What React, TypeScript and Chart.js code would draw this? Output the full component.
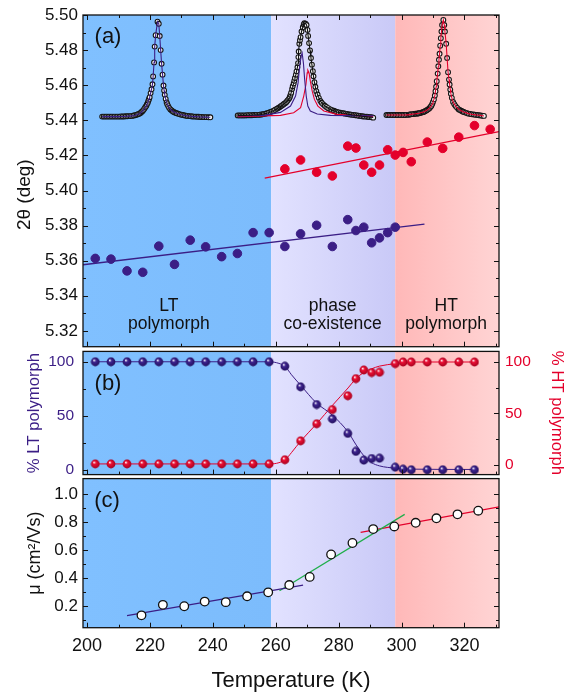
import React, { useEffect, useRef } from 'react';
import { Chart, registerables } from 'chart.js';

Chart.register(...registerables);

// ---------------- data ----------------
const xTickMajor = [200, 220, 240, 260, 280, 300, 320];
const xTickMinor = [210, 230, 250, 270, 290, 310, 330];
const phaseBoundsT = [258.5, 298.0];

// panel (a): peak position 2θ
const ltT = [202.6, 207.6, 212.7, 217.7, 222.8, 227.8, 232.8, 237.7, 242.8, 247.8, 252.8, 257.9, 262.9, 267.9, 273.0, 278.0, 282.9, 285.5, 288.0, 290.5, 293.0, 295.6, 298.0];
const lt2Theta = [5.3613, 5.3609, 5.3542, 5.3534, 5.3683, 5.3579, 5.3717, 5.3679, 5.3623, 5.3641, 5.3760, 5.3760, 5.3681, 5.3753, 5.3802, 5.3681, 5.3834, 5.3772, 5.3791, 5.3702, 5.3730, 5.3760, 5.3791];
const htT = [262.9, 267.9, 273.0, 278.0, 282.9, 285.5, 288.0, 290.5, 293.0, 295.6, 298.0, 300.5, 303.1, 308.2, 313.1, 318.2, 323.2, 328.2];
const ht2Theta = [5.4123, 5.4174, 5.4104, 5.4083, 5.4253, 5.4242, 5.4145, 5.4104, 5.4145, 5.4232, 5.4202, 5.4217, 5.4164, 5.4276, 5.4240, 5.4304, 5.4370, 5.4349];
const ltLineT = [198.7, 307.3];
const ltLine2Theta = [5.3577, 5.3808];
const htLineT = [256.5, 331.0];
const htLine2Theta = [5.4070, 5.4336];

// panel (a): inset diffraction profiles, [T, 2θ] as placed in the panel
const peak1 = [
  [204.8, 5.4421], [205.3, 5.4421], [205.8, 5.4421], [206.3, 5.4421], [206.8, 5.4421], [207.3, 5.4421], [207.8, 5.4421], [208.3, 5.4421],
  [208.8, 5.4421], [209.3, 5.4421], [209.8, 5.4421], [210.3, 5.4421], [210.8, 5.4422], [211.3, 5.4422], [211.8, 5.4422], [212.3, 5.4423],
  [212.8, 5.4423], [213.3, 5.4424], [213.8, 5.4424], [214.3, 5.4425], [214.8, 5.4427], [215.3, 5.4429], [215.8, 5.4432], [216.2, 5.4435],
  [216.6, 5.4438], [217.0, 5.4442], [217.3, 5.4447], [217.6, 5.4452], [217.9, 5.4458], [218.2, 5.4466], [218.5, 5.4474], [218.8, 5.4482],
  [219.0, 5.4490], [219.3, 5.4500], [219.5, 5.4512], [219.7, 5.4522], [219.9, 5.4532], [220.2, 5.4555], [220.5, 5.4577], [220.8, 5.4605],
  [221.0, 5.4650], [221.3, 5.4730], [221.5, 5.4820], [221.8, 5.4885], [222.4, 5.4962], [222.8, 5.4950], [223.1, 5.4880], [223.4, 5.4800],
  [223.7, 5.4722], [224.0, 5.4660], [224.3, 5.4598], [224.5, 5.4570], [224.7, 5.4545], [225.0, 5.4522], [225.3, 5.4502], [225.5, 5.4492],
  [225.8, 5.4481], [226.1, 5.4471], [226.5, 5.4462], [226.9, 5.4456], [227.3, 5.4450], [227.7, 5.4446], [228.1, 5.4443], [228.5, 5.4440],
  [229.0, 5.4437], [229.5, 5.4434], [230.0, 5.4432], [230.5, 5.4430], [231.0, 5.4428], [231.5, 5.4426], [232.0, 5.4425], [232.5, 5.4424],
  [233.0, 5.4423], [233.5, 5.4422], [234.0, 5.4421], [234.5, 5.4421], [235.0, 5.4420], [235.5, 5.4420], [236.0, 5.4419], [236.5, 5.4419],
  [237.0, 5.4418], [237.5, 5.4418], [238.0, 5.4418], [238.6, 5.4417], [239.2, 5.4417],
];
const peak2 = [
  [247.9, 5.4428], [248.4, 5.4428], [248.9, 5.4428], [249.4, 5.4428], [249.9, 5.4428], [250.4, 5.4428], [250.9, 5.4429], [251.4, 5.4429],
  [251.9, 5.4429], [252.4, 5.4429], [252.9, 5.4430], [253.4, 5.4430], [253.9, 5.4431], [254.4, 5.4431], [254.9, 5.4432], [255.4, 5.4433],
  [255.8, 5.4434], [256.2, 5.4436], [256.7, 5.4438], [257.2, 5.4440], [257.7, 5.4443], [258.3, 5.4447], [258.8, 5.4451], [259.3, 5.4455],
  [259.8, 5.4460], [260.4, 5.4466], [260.8, 5.4470], [261.2, 5.4475], [261.6, 5.4480], [262.0, 5.4485], [262.4, 5.4490], [262.7, 5.4494],
  [263.1, 5.4499], [263.4, 5.4504], [263.7, 5.4511], [264.0, 5.4518], [264.3, 5.4526], [264.5, 5.4534], [264.7, 5.4545], [264.9, 5.4557],
  [265.2, 5.4579], [265.4, 5.4594], [265.7, 5.4610], [265.9, 5.4625], [266.1, 5.4641], [266.4, 5.4660], [266.6, 5.4679], [266.9, 5.4702],
  [267.1, 5.4726], [267.2, 5.4760], [267.3, 5.4792], [267.5, 5.4836], [267.7, 5.4856], [267.9, 5.4874], [268.2, 5.4906], [268.6, 5.4930],
  [268.9, 5.4946], [269.1, 5.4953], [269.5, 5.4950], [269.8, 5.4943], [270.1, 5.4915], [270.3, 5.4881], [270.6, 5.4840], [270.9, 5.4798],
  [271.2, 5.4755], [271.5, 5.4717], [271.8, 5.4680], [272.0, 5.4651], [272.3, 5.4617], [272.6, 5.4591], [272.9, 5.4566], [273.3, 5.4547],
  [273.7, 5.4528], [274.2, 5.4510], [274.6, 5.4500], [275.1, 5.4491], [275.6, 5.4483], [276.1, 5.4476], [276.7, 5.4469], [277.4, 5.4462],
  [277.9, 5.4458], [278.5, 5.4454], [279.0, 5.4450], [279.5, 5.4447], [280.0, 5.4445], [280.6, 5.4443], [281.1, 5.4441], [281.6, 5.4440],
  [282.1, 5.4438], [282.7, 5.4436], [283.2, 5.4434], [283.7, 5.4433], [284.2, 5.4431], [284.8, 5.4430], [285.3, 5.4429], [285.8, 5.4428],
  [286.3, 5.4426], [286.9, 5.4425], [287.4, 5.4423], [287.9, 5.4422], [288.4, 5.4421], [289.0, 5.4420], [289.5, 5.4419], [290.0, 5.4418],
  [290.5, 5.4417], [291.0, 5.4415],
];
const peak2LtComponent = [
  [247.9, 5.4425], [256.2, 5.4428], [261.5, 5.4445], [264.7, 5.4481], [266.3, 5.4538], [267.1, 5.4613], [267.6, 5.4707], [268.1, 5.4768],
  [268.4, 5.4783], [268.8, 5.4726], [269.2, 5.4632], [269.7, 5.4538], [270.2, 5.4481], [271.0, 5.4453], [273.2, 5.4436], [277.4, 5.4428], [291.0, 5.4425],
];
const peak2HtComponent = [
  [247.9, 5.4421], [261.5, 5.4428], [265.7, 5.4443], [267.9, 5.4472], [268.9, 5.4538], [269.6, 5.4604], [270.0, 5.4670], [270.2, 5.4685],
  [270.6, 5.4670], [271.0, 5.4623], [271.6, 5.4566], [272.3, 5.4519], [273.4, 5.4481], [275.3, 5.4453], [279.5, 5.4434], [291.0, 5.4421],
];
const peak3 = [
  [295.2, 5.4430], [295.7, 5.4430], [296.2, 5.4430], [296.7, 5.4430], [297.2, 5.4430], [297.7, 5.4430], [298.2, 5.4430], [298.7, 5.4430],
  [299.2, 5.4430], [299.7, 5.4430], [300.2, 5.4430], [300.7, 5.4430], [301.2, 5.4430], [301.7, 5.4431], [302.2, 5.4431], [302.6, 5.4433],
  [302.9, 5.4434], [303.4, 5.4435], [303.9, 5.4436], [304.4, 5.4437], [304.8, 5.4438], [305.2, 5.4439], [305.5, 5.4440], [305.9, 5.4442],
  [306.3, 5.4444], [306.7, 5.4446], [307.0, 5.4448], [307.3, 5.4450], [307.6, 5.4453], [308.0, 5.4457], [308.3, 5.4461], [308.7, 5.4466],
  [309.0, 5.4472], [309.3, 5.4478], [309.5, 5.4483], [309.8, 5.4494], [310.0, 5.4505], [310.3, 5.4519], [310.6, 5.4541], [310.8, 5.4566],
  [311.0, 5.4591], [311.2, 5.4623], [311.5, 5.4666], [311.7, 5.4708], [311.9, 5.4745], [312.1, 5.4779], [312.3, 5.4825], [312.5, 5.4868],
  [312.7, 5.4906], [312.9, 5.4943], [313.3, 5.4972], [313.6, 5.4943], [313.8, 5.4906], [314.2, 5.4836], [314.5, 5.4755], [314.8, 5.4674],
  [315.1, 5.4632], [315.3, 5.4604], [315.5, 5.4575], [315.7, 5.4551], [316.0, 5.4528], [316.4, 5.4504], [316.8, 5.4492], [317.2, 5.4481],
  [317.7, 5.4471], [318.2, 5.4462], [318.6, 5.4458], [319.0, 5.4454], [319.4, 5.4450], [319.8, 5.4447], [320.3, 5.4444], [320.8, 5.4441],
  [321.3, 5.4438], [321.9, 5.4436], [322.4, 5.4434], [323.0, 5.4433], [323.5, 5.4431], [324.1, 5.4430], [324.6, 5.4429], [325.1, 5.4428],
  [325.6, 5.4426], [326.2, 5.4425],
];

const aTickMajor = [5.32, 5.34, 5.36, 5.38, 5.40, 5.42, 5.44, 5.46, 5.48, 5.50];
const aTickMinor = [5.31, 5.33, 5.35, 5.37, 5.39, 5.41, 5.43, 5.45, 5.47, 5.49];
const regionLabelT = [226.0, 278.1, 314.2];
const regionLabelText = [['LT', 'polymorph'], ['phase', 'co-existence'], ['HT', 'polymorph']];
const regionLabelV = [5.334, 5.3236];

// panel (b): phase fractions
const fracT = [202.6, 207.6, 212.7, 217.7, 222.8, 227.8, 232.8, 237.7, 242.8, 247.8, 252.8, 257.9, 262.9, 267.9, 273.0, 278.0, 282.9, 285.5, 288.0, 290.5, 293.0, 298.0, 300.5, 303.1, 308.2, 313.1, 318.2, 323.2];
const ltPct = [100, 100, 100, 100, 100, 100, 100, 100, 100, 100, 100, 100, 95.9, 76.8, 60.4, 47.1, 33.7, 17.0, 8.9, 10.4, 10.7, 2.4, 0.5, 0, 0, 0, 0, 0];
const htPct = [1, 1, 1, 1, 1, 1, 1, 1, 1, 1, 1, 1, 5.0, 23.4, 40.0, 53.8, 67.2, 83.8, 92.2, 89.7, 90.0, 98.4, 100, 100, 100, 100, 100, 100];
const ltFitT = [202.6, 258.0, 259.5, 261.0, 262.9, 265.0, 267.9, 272.9, 278.0, 283.0, 285.4, 287.9, 290.5, 293.0, 298.0, 303.0, 323.2];
const ltFitPct = [100, 100, 99.6, 98.5, 96, 88, 78.3, 62, 50.6, 35, 23.8, 13.4, 6.6, 3.6, 1.5, 0.6, 0.3];
const htFitT = [202.6, 258.0, 259.5, 261.0, 263.0, 265.0, 268.0, 273.0, 278.0, 283.0, 285.5, 287.9, 290.5, 293.0, 298.0, 300.5, 303.0, 323.2];
const htFitPct = [1, 1, 1.2, 2.2, 5, 12, 23.4, 40, 57.8, 74.8, 83.8, 89.7, 93.4, 96, 98.4, 99.4, 100, 100];
const bTickMajor = [0, 50, 100];
const bTickMinor = [25, 75];

// panel (c): mobility
const muT = [217.3, 224.1, 230.9, 237.4, 244.1, 250.9, 257.6, 264.3, 270.8, 277.6, 284.4, 291.0, 297.7, 304.5, 311.1, 317.8, 324.4];
const mu = [0.134, 0.209, 0.199, 0.232, 0.228, 0.270, 0.298, 0.350, 0.408, 0.568, 0.650, 0.749, 0.768, 0.794, 0.826, 0.854, 0.880];
const muLtFitT = [212.7, 268.7];
const muLtFit = [0.132, 0.350];
const muCoFitT = [261.2, 301.0];
const muCoFit = [0.310, 0.854];
const muHtFitT = [287.0, 331.3];
const muHtFit = [0.725, 0.908];
const cTickMajor = [0.2, 0.4, 0.6, 0.8, 1.0];
const cTickMinor = [0.1, 0.3, 0.5, 0.7, 0.9];

// ---------------- style ----------------
const FONT = "'Liberation Sans', Arial, Helvetica, sans-serif";
const LT = '#3b1e86';
const HT = '#e4002b';
const GREEN = '#1fae4a';
const INK = '#111111';
const X_MIN = 198.7;
const X_MAX = 331.0;
const REGION_COLORS = [
  ['#80c0ff', '#7cbcfc'],
  ['#e2e2ff', '#c9c9f7'],
  ['#ffb8b8', '#ffd4d4'],
];

const zip = (xs: number[], ys: number[]) => xs.map((x, i) => ({ x, y: ys[i] }));
const pairs = (p: number[][]) => p.map(([x, y]) => ({ x, y }));

const regionBgPlugin = {
  id: 'regionBg',
  beforeDatasetsDraw(chart: any, _a: any, opts: any) {
    const { ctx, chartArea: a } = chart;
    const x = chart.scales.x;
    const edges = [a.left, ...phaseBoundsT.map((t) => x.getPixelForValue(t)), a.right];
    ctx.save();
    REGION_COLORS.forEach(([c0, c1], i) => {
      const x0 = edges[i];
      const x1 = edges[i + 1];
      const g = ctx.createLinearGradient(x0, 0, x1, 0);
      g.addColorStop(0, c0);
      g.addColorStop(1, c1);
      ctx.fillStyle = g;
      ctx.fillRect(x0, a.top, x1 - x0, a.bottom - a.top);
    });
    if (opts && opts.labels) {
      const y = chart.scales.y;
      ctx.fillStyle = INK;
      ctx.font = `17.5px ${FONT}`;
      ctx.textAlign = 'center';
      ctx.textBaseline = 'middle';
      regionLabelT.forEach((t, i) => {
        regionLabelText[i].forEach((line, j) => {
          ctx.fillText(line, x.getPixelForValue(t), y.getPixelForValue(regionLabelV[j]));
        });
      });
    }
    ctx.restore();
  },
};

const frameTicksPlugin = {
  id: 'frameTicks',
  afterDatasetsDraw(chart: any, _a: any, opts: any) {
    const { ctx, chartArea: a } = chart;
    ctx.save();
    ctx.strokeStyle = INK;
    ctx.lineWidth = 1;
    for (const s of (opts && opts.sides) || []) {
      const sc = chart.scales[s.scale];
      const groups: any[] = [[s.major, 5], [s.minor, 3]];
      for (const [vals, len] of groups) {
        for (const v of vals) {
          const p = sc.getPixelForValue(v);
          ctx.beginPath();
          if (s.side === 'left' || s.side === 'right') {
            if (p < a.top - 0.5 || p > a.bottom + 0.5) continue;
            const yy = Math.round(p) + 0.5;
            const x0 = s.side === 'left' ? a.left : a.right;
            const x1 = s.side === 'left' ? a.left + len : a.right - len;
            ctx.moveTo(x0, yy);
            ctx.lineTo(x1, yy);
          } else {
            if (p < a.left - 0.5 || p > a.right + 0.5) continue;
            const xx = Math.round(p) + 0.5;
            const y0 = s.side === 'top' ? a.top : a.bottom;
            const y1 = s.side === 'top' ? a.top + len : a.bottom - len;
            ctx.moveTo(xx, y0);
            ctx.lineTo(xx, y1);
          }
          ctx.stroke();
        }
      }
    }
    ctx.lineWidth = 1.3;
    ctx.strokeRect(a.left, a.top, a.right - a.left, a.bottom - a.top);
    ctx.restore();
  },
};

const panelTextPlugin = {
  id: 'panelText',
  afterDraw(chart: any, _a: any, opts: any) {
    const { ctx, chartArea: a } = chart;
    ctx.save();
    for (const it of (opts && opts.items) || []) {
      ctx.save();
      ctx.translate(a.left + it.dx, a.top + it.dy);
      if (it.rotate) ctx.rotate(it.rotate);
      ctx.fillStyle = it.color || INK;
      ctx.font = `${it.size}px ${FONT}`;
      ctx.textAlign = 'center';
      ctx.textBaseline = 'middle';
      ctx.fillText(it.text, 0, 0);
      ctx.restore();
    }
    ctx.restore();
  },
};

function makeBall(base: string, dark: string) {
  const c = document.createElement('canvas');
  c.width = 10;
  c.height = 10;
  const g = c.getContext('2d') as CanvasRenderingContext2D;
  const grad = g.createRadialGradient(3.7, 3.3, 0.2, 5, 5, 4.8);
  grad.addColorStop(0, '#ffffff');
  grad.addColorStop(0.32, base);
  grad.addColorStop(1, dark);
  g.fillStyle = grad;
  g.beginPath();
  g.arc(5, 5, 4.4, 0, Math.PI * 2);
  g.fill();
  return c;
}

// fix an axis' thickness and drop the automatic label overhang padding
const fixWidth = (w: number) => (s: any) => {
  s.width = w;
  s.paddingTop = 0;
  s.paddingBottom = 0;
  s.paddingLeft = 0;
  s.paddingRight = 0;
};
const fixHeight = (h: number) => (s: any) => {
  s.height = h;
  s.paddingTop = 0;
  s.paddingBottom = 0;
  s.paddingLeft = 0;
  s.paddingRight = 0;
};

const hiddenX = { type: 'linear', min: X_MIN, max: X_MAX, display: false };

function yAxis(extra: any) {
  return {
    type: 'linear',
    grid: { display: false, drawTicks: false },
    border: { display: false },
    ...extra,
  };
}

const lineDs = (label: string, data: any[], color: string, width: number, order: number) => ({
  label,
  data,
  showLine: true,
  borderColor: color,
  borderWidth: width,
  pointRadius: 0,
  fill: false,
  order,
});

const insetPoints = (label: string, data: any[]) => ({
  label,
  data,
  pointRadius: 2.4,
  pointBackgroundColor: '#f6f6f6',
  pointBorderColor: '#151515',
  pointBorderWidth: 1.1,
  order: 3,
});

export default function App() {
  const refA = useRef<HTMLCanvasElement | null>(null);
  const refB = useRef<HTMLCanvasElement | null>(null);
  const refC = useRef<HTMLCanvasElement | null>(null);

  useEffect(() => {
    Chart.defaults.font.family = FONT;
    Chart.defaults.color = INK;
    const charts: any[] = [];

    // ---------- panel (a) ----------
    charts.push(
      new Chart(refA.current as HTMLCanvasElement, {
        type: 'scatter',
        data: {
          datasets: [
            { label: 'LT 2θ', data: zip(ltT, lt2Theta), pointRadius: 4.3, pointBackgroundColor: LT, pointBorderColor: LT, order: 1 },
            { label: 'HT 2θ', data: zip(htT, ht2Theta), pointRadius: 4.3, pointBackgroundColor: HT, pointBorderColor: HT, order: 1 },
            lineDs('LT linear fit', zip(ltLineT, ltLine2Theta), LT, 1.3, 5),
            lineDs('HT linear fit', zip(htLineT, htLine2Theta), HT, 1.3, 5),
            lineDs('LT profile fit', pairs(peak1), LT, 1.1, 2),
            insetPoints('LT profile', pairs(peak1)),
            lineDs('co-existence total fit', pairs(peak2), '#111111', 1.1, 2),
            lineDs('co-existence LT component', pairs(peak2LtComponent), LT, 1.1, 2),
            lineDs('co-existence HT component', pairs(peak2HtComponent), HT, 1.1, 2),
            insetPoints('co-existence profile', pairs(peak2)),
            lineDs('HT profile fit', pairs(peak3), HT, 1.1, 2),
            insetPoints('HT profile', pairs(peak3)),
          ],
        } as any,
        options: {
          responsive: false,
          animation: false,
          layout: { padding: { left: 0, top: 15, right: 66, bottom: 3 } },
          plugins: {
            legend: { display: false },
            tooltip: { enabled: false },
            regionBg: { labels: true },
            frameTicks: {
              sides: [
                { side: 'left', scale: 'y', major: aTickMajor, minor: aTickMinor },
                { side: 'right', scale: 'y', major: aTickMajor, minor: aTickMinor },
                { side: 'top', scale: 'x', major: xTickMajor, minor: xTickMinor },
                { side: 'bottom', scale: 'x', major: xTickMajor, minor: xTickMinor },
              ],
            },
            panelText: {
              items: [
                { text: '(a)', dx: 25, dy: 21.7, size: 22 },
                { text: '2θ (deg)', dx: -58, dy: 179.7, size: 19, rotate: -Math.PI / 2 },
              ],
            },
          } as any,
          scales: {
            x: hiddenX,
            y: yAxis({
              min: 5.311,
              max: 5.5,
              afterFit: fixWidth(83),
              afterBuildTicks: (s: any) => { s.ticks = aTickMajor.map((v) => ({ value: v })); },
              ticks: { padding: 5, autoSkip: false, color: INK, font: { size: 17 }, callback: (v: any) => Number(v).toFixed(2) },
            }),
          } as any,
        },
        plugins: [regionBgPlugin, frameTicksPlugin, panelTextPlugin],
      } as any)
    );

    // ---------- panel (b) ----------
    const ltBall = makeBall('#3f2590', '#1e0c58');
    const htBall = makeBall('#ea1035', '#a0001c');
    charts.push(
      new Chart(refB.current as HTMLCanvasElement, {
        type: 'scatter',
        data: {
          datasets: [
            { label: '% LT', data: zip(fracT, ltPct), yAxisID: 'y', pointStyle: ltBall, pointRadius: 4.4, order: 1 },
            { label: '% HT', data: zip(fracT, htPct), yAxisID: 'yR', pointStyle: htBall, pointRadius: 4.4, order: 1 },
            { ...lineDs('% LT fit', zip(ltFitT, ltFitPct), LT, 1, 4), yAxisID: 'y', cubicInterpolationMode: 'monotone' },
            { ...lineDs('% HT fit', zip(htFitT, htFitPct), HT, 1, 4), yAxisID: 'yR', cubicInterpolationMode: 'monotone' },
          ],
        } as any,
        options: {
          responsive: false,
          animation: false,
          layout: { padding: { left: 0, top: 3, right: 0, bottom: 3.3 } },
          plugins: {
            legend: { display: false },
            tooltip: { enabled: false },
            regionBg: {},
            frameTicks: {
              sides: [
                { side: 'left', scale: 'y', major: bTickMajor, minor: bTickMinor },
                { side: 'right', scale: 'yR', major: bTickMajor, minor: bTickMinor },
                { side: 'bottom', scale: 'x', major: xTickMajor, minor: xTickMinor },
              ],
            },
            panelText: { items: [{ text: '(b)', dx: 25, dy: 32.7, size: 22 }] },
          } as any,
          scales: {
            x: hiddenX,
            y: yAxis({
              position: 'left',
              min: -4.46,
              max: 109.6,
              afterFit: fixWidth(83),
              afterBuildTicks: (s: any) => { s.ticks = bTickMajor.map((v) => ({ value: v })); },
              ticks: { padding: 9, autoSkip: false, color: LT, font: { size: 15.5 } },
              title: { display: true, text: '% LT polymorph', color: LT, font: { size: 16.7 }, padding: { top: 24.2, bottom: 0 } },
            }),
            yR: yAxis({
              position: 'right',
              min: -9.37,
              max: 110.3,
              afterFit: fixWidth(66),
              afterBuildTicks: (s: any) => { s.ticks = bTickMajor.map((v) => ({ value: v })); },
              ticks: { padding: 6, autoSkip: false, color: HT, font: { size: 15.5 } },
              title: { display: true, text: '% HT polymorph', color: HT, font: { size: 16.7 }, padding: { top: -2, bottom: 0 } },
            }),
          } as any,
        },
        plugins: [regionBgPlugin, frameTicksPlugin, panelTextPlugin],
      } as any)
    );

    // ---------- panel (c) ----------
    charts.push(
      new Chart(refC.current as HTMLCanvasElement, {
        type: 'scatter',
        data: {
          datasets: [
            { label: 'μ', data: zip(muT, mu), pointRadius: 4.3, pointBackgroundColor: '#ffffff', pointBorderColor: '#111111', pointBorderWidth: 1.3, order: 1 },
            lineDs('LT fit', zip(muLtFitT, muLtFit), LT, 1.2, 3),
            lineDs('co-existence fit', zip(muCoFitT, muCoFit), GREEN, 1.2, 3),
            lineDs('HT fit', zip(muHtFitT, muHtFit), HT, 1.2, 3),
          ],
        } as any,
        options: {
          responsive: false,
          animation: false,
          layout: { padding: { left: 0, top: 3.7, right: 66, bottom: 0 } },
          plugins: {
            legend: { display: false },
            tooltip: { enabled: false },
            regionBg: {},
            frameTicks: {
              sides: [
                { side: 'left', scale: 'y', major: cTickMajor, minor: cTickMinor },
                { side: 'right', scale: 'y', major: cTickMajor, minor: cTickMinor },
                { side: 'bottom', scale: 'x', major: xTickMajor, minor: xTickMinor },
              ],
            },
            panelText: { items: [{ text: '(c)', dx: 24, dy: 22.3, size: 22 }] },
          } as any,
          scales: {
            x: {
              type: 'linear',
              min: X_MIN,
              max: X_MAX,
              grid: { display: false, drawTicks: false },
              border: { display: false },
              afterFit: fixHeight(70.3),
              afterBuildTicks: (s: any) => { s.ticks = xTickMajor.map((v) => ({ value: v })); },
              ticks: { padding: 7.3, autoSkip: false, maxRotation: 0, color: INK, font: { size: 18 } },
              title: { display: true, text: 'Temperature (K)', color: INK, font: { size: 22 }, padding: { top: 0, bottom: 3.8 } },
            },
            y: yAxis({
              min: 0.046,
              max: 1.109,
              afterFit: fixWidth(83),
              afterBuildTicks: (s: any) => { s.ticks = cTickMajor.map((v) => ({ value: v })); },
              ticks: { padding: 5, autoSkip: false, color: INK, font: { size: 17 }, callback: (v: any) => Number(v).toFixed(1) },
              title: { display: true, text: 'μ (cm²/Vs)', color: INK, font: { size: 18 }, padding: { top: 24.7, bottom: 0 } },
            }),
          } as any,
        },
        plugins: [regionBgPlugin, frameTicksPlugin, panelTextPlugin],
      } as any)
    );

    return () => charts.forEach((c) => c.destroy());
  }, []);

  const canvasStyle = (top: number, h: number): React.CSSProperties => ({
    position: 'absolute',
    left: 0,
    top,
    width: 565,
    height: h,
    display: 'block',
  });

  return (
    <div style={{ position: 'absolute', left: 0, top: 0, width: 565, height: 698, background: '#ffffff', overflow: 'hidden' }}>
      <canvas ref={refA} width={565} height={352} style={canvasStyle(0, 352)} />
      <canvas ref={refB} width={565} height={134} style={canvasStyle(346, 134)} />
      <canvas ref={refC} width={565} height={225} style={canvasStyle(473, 225)} />
    </div>
  );
}
